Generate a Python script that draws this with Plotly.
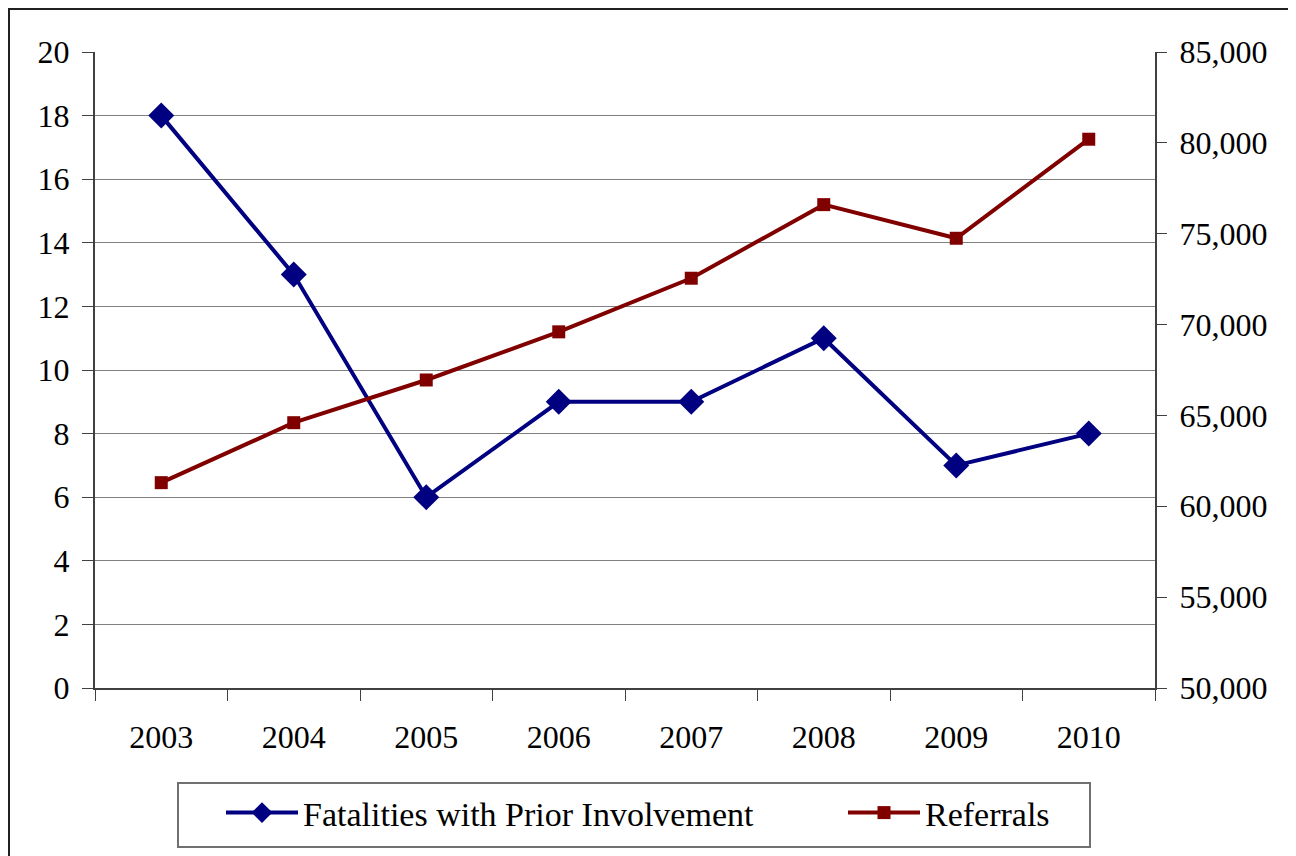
import plotly.graph_objects as go

years = ["2003", "2004", "2005", "2006", "2007", "2008", "2009", "2010"]
fatalities = [18, 13, 6, 9, 9, 11, 7, 8]
referrals = [61300, 64600, 66950, 69600, 72550, 76600, 74750, 80200]

BLUE = "#000080"
RED = "#800000"
FONT = "Liberation Serif, Times New Roman, serif"
TICK_SIZE = 32
LEG_SIZE = 34

fig = go.Figure()
fig.add_trace(go.Scatter(
    x=years, y=fatalities, name="Fatalities with Prior Involvement",
    mode="lines+markers",
    line=dict(color=BLUE, width=4),
    marker=dict(symbol="diamond", size=20, color=BLUE),
    yaxis="y", legend="legend",
))
fig.add_trace(go.Scatter(
    x=years, y=referrals, name="Referrals",
    mode="lines+markers",
    line=dict(color=RED, width=4),
    marker=dict(symbol="square", size=13, color=RED),
    yaxis="y2", legend="legend2",
))

leg_common = dict(
    orientation="h", yanchor="middle", xanchor="left",
    bgcolor="rgba(0,0,0,0)", borderwidth=0,
    font=dict(family=FONT, size=LEG_SIZE, color="black"),
    itemwidth=72,
)

# page is offset by the 8px body margin; figure coords = page coords - 8
fig.update_layout(
    width=1288, height=848,
    margin=dict(l=87, r=141, t=44, b=168),
    paper_bgcolor="white", plot_bgcolor="white",
    font=dict(family=FONT, size=TICK_SIZE, color="black"),
    showlegend=True,
    legend=dict(x=(221 - 95) / 1060, y=(688 - 813) / 636, **leg_common),
    legend2=dict(x=(843 - 95) / 1060, y=(688 - 813) / 636, **leg_common),
    xaxis=dict(
        type="category", range=[-0.5, 7.5],
        showline=True, linecolor="#404040", linewidth=2,
        ticks="outside", ticklen=11, tickcolor="#404040", tickwidth=1,
        tickson="boundaries", showgrid=False,
        tickfont=dict(family=FONT, size=TICK_SIZE),
        ticklabelstandoff=20,
    ),
    yaxis=dict(
        range=[0, 20], dtick=2,
        showline=True, linecolor="#404040", linewidth=2,
        ticks="outside", ticklen=11, tickcolor="#404040",
        showgrid=True, gridcolor="#808080", gridwidth=1,
        zeroline=False,
        tickfont=dict(family=FONT, size=TICK_SIZE),
        ticklabelstandoff=6,
    ),
    yaxis2=dict(
        range=[50000, 85000], dtick=5000, tickformat=",",
        overlaying="y", side="right",
        showline=True, linecolor="#404040", linewidth=2,
        ticks="outside", ticklen=10, tickcolor="#404040",
        showgrid=False, zeroline=False,
        tickfont=dict(family=FONT, size=TICK_SIZE),
        ticklabelstandoff=6,
    ),
    shapes=[
        dict(type="rect", xref="paper", yref="paper",
             x0=(9 - 95) / 1060, x1=(1295 - 95) / 1060,
             y0=(688 - 870) / 636, y1=(688 - 9) / 636,
             line=dict(color="#202020", width=2), fillcolor="rgba(0,0,0,0)", layer="below"),
        dict(type="rect", xref="paper", yref="paper",
             x0=(178 - 95) / 1060, x1=(1090 - 95) / 1060,
             y0=(688 - 847) / 636, y1=(688 - 783) / 636,
             line=dict(color="#707070", width=2), fillcolor="rgba(0,0,0,0)", layer="below"),
    ],
)

fig.write_html("out.html")
